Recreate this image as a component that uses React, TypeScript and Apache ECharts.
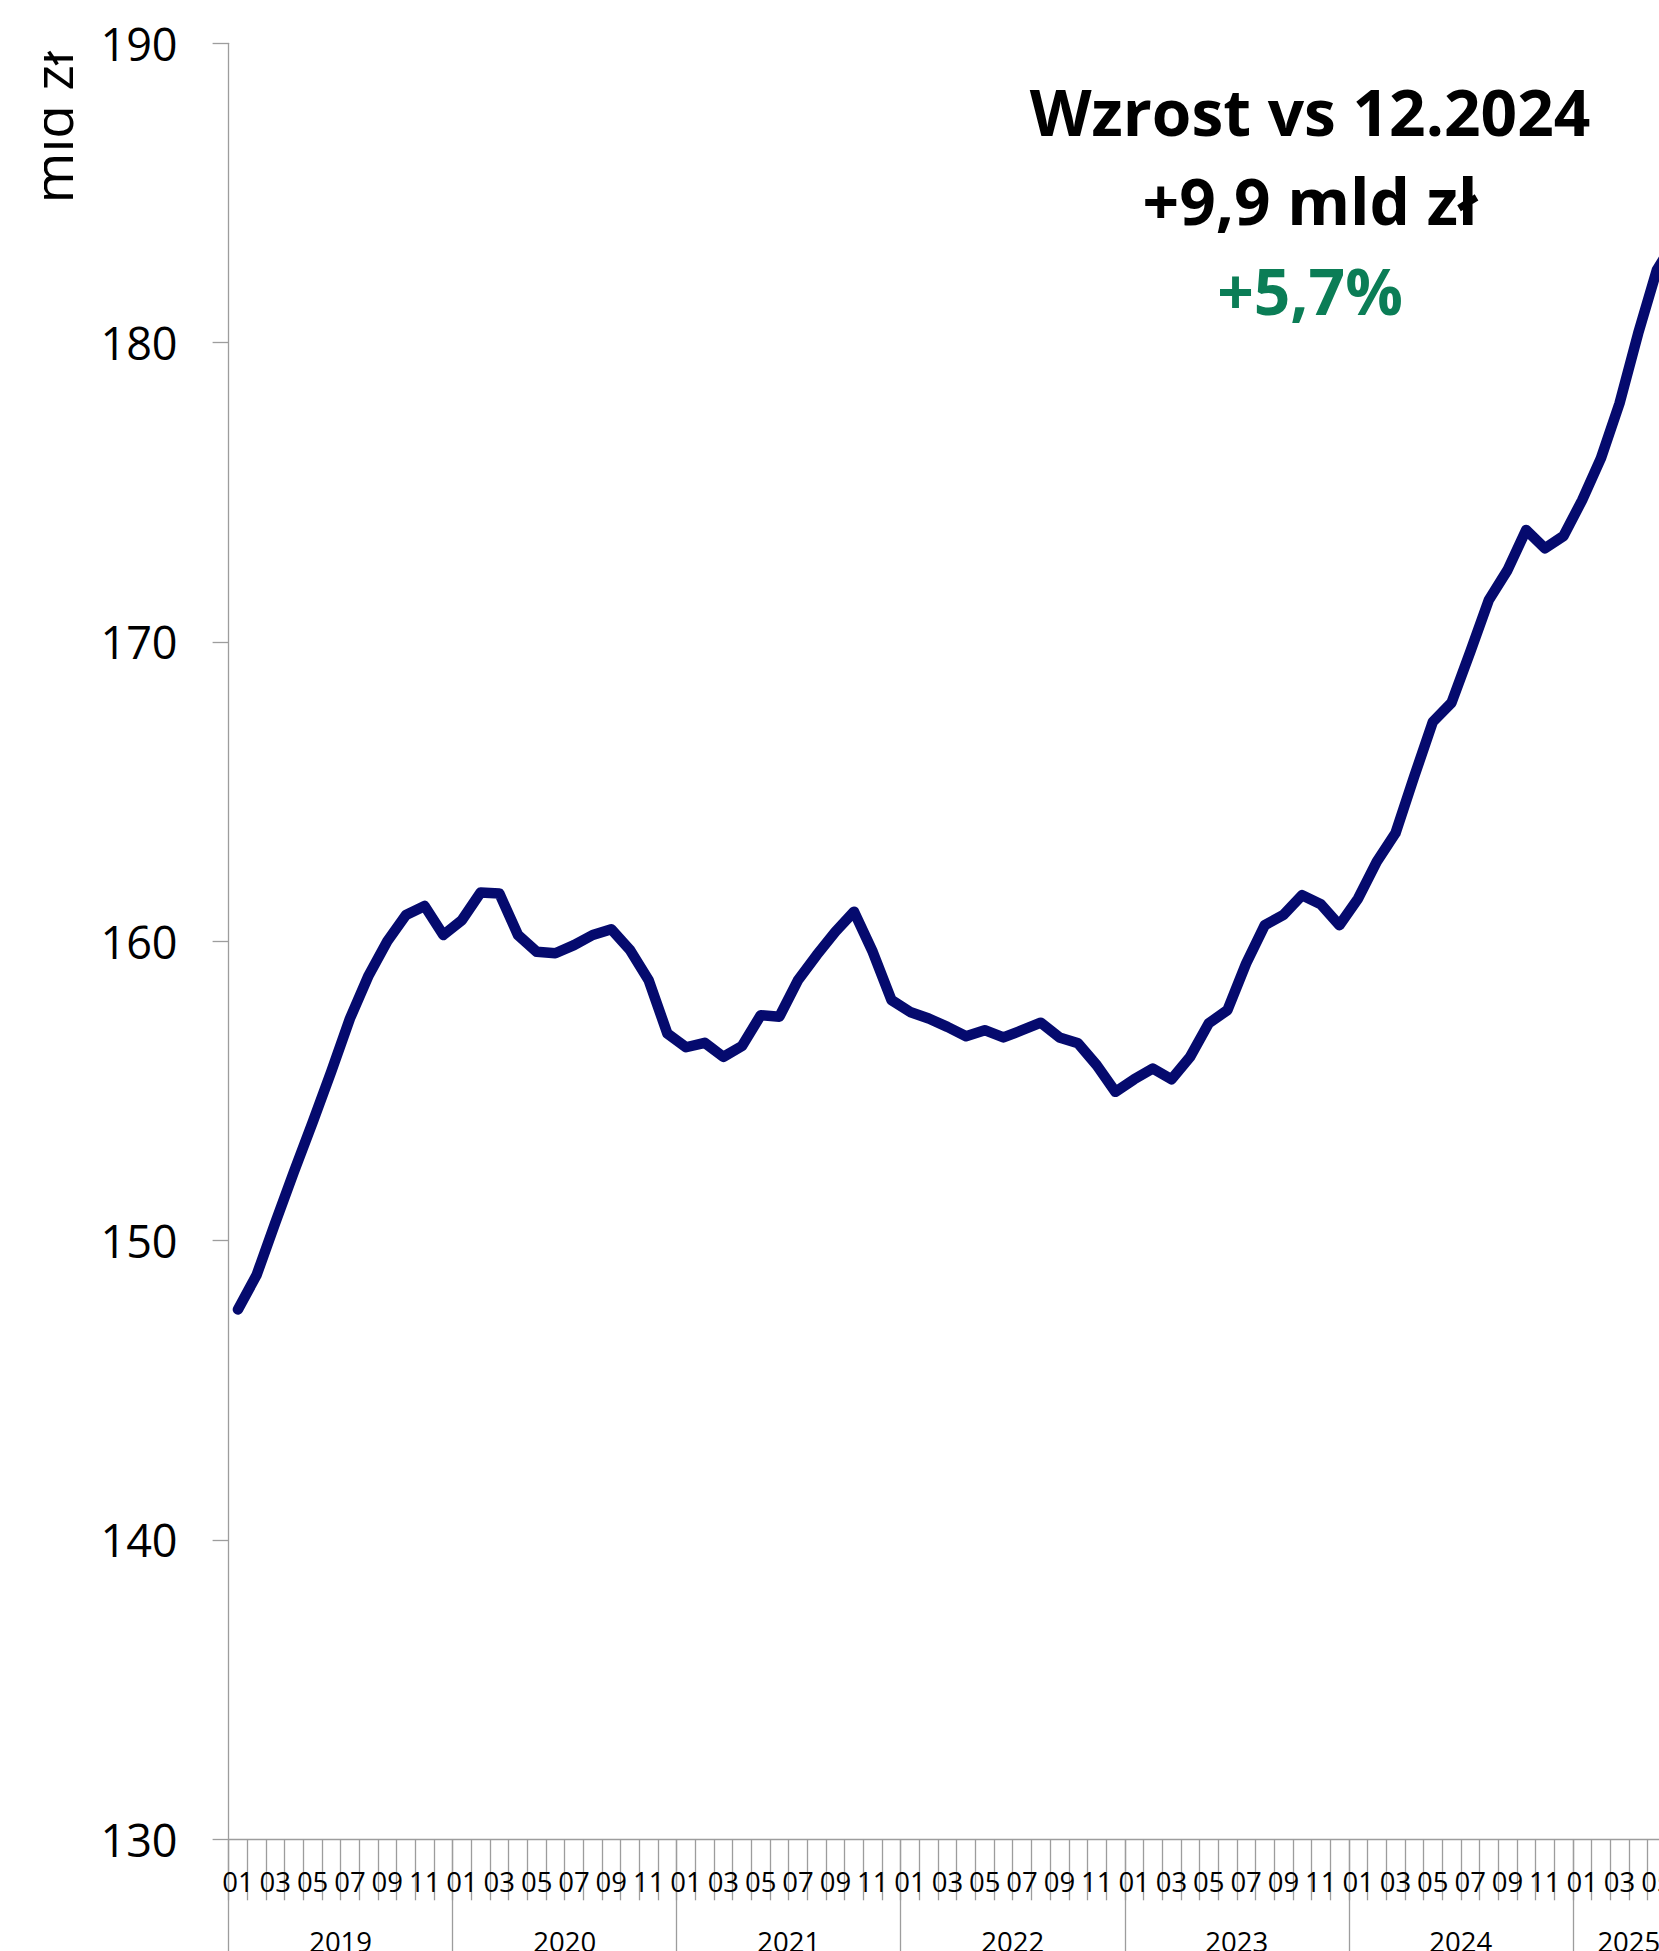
import React, { useEffect, useRef } from "react";
import * as echarts from "echarts";

// ---- DATA ----
const years = ["2019", "2020", "2021", "2022", "2023", "2024", "2025"];
const monthLabels = ["01", "02", "03", "04", "05", "06", "07", "08", "09", "10", "11", "12"];
const v2019 = [147.7, 148.85, 150.6, 152.3, 153.95, 155.65, 157.42, 158.86, 160.0, 160.88, 161.18, 160.21];
const v2020 = [160.71, 161.63, 161.6, 160.21, 159.65, 159.6, 159.87, 160.21, 160.4, 159.71, 158.7, 156.92];
const v2021 = [156.46, 156.61, 156.14, 156.5, 157.53, 157.48, 158.7, 159.54, 160.32, 160.99, 159.65, 158.04];
const v2022 = [157.64, 157.42, 157.14, 156.83, 157.03, 156.79, 157.03, 157.28, 156.79, 156.59, 155.86, 154.97];
const v2023 = [155.39, 155.75, 155.39, 156.14, 157.26, 157.7, 159.26, 160.54, 160.88, 161.54, 161.24, 160.54];
const v2024 = [161.43, 162.66, 163.61, 165.5, 167.33, 167.97, 169.66, 171.4, 172.4, 173.74, 173.13, 173.54];
const v2025 = [174.74, 176.13, 177.97, 180.31, 182.43, 183.44];
const yMin = 130;
const yMax = 190;
const yStep = 10;
const unitLabel = "mld zł";
const noteLines = ["Wzrost vs 12.2024", "+9,9 mld zł", "+5,7%"];

const yearValues = [v2019, v2020, v2021, v2022, v2023, v2024, v2025];

export default function App() {
  const ref = useRef<HTMLDivElement>(null);

  useEffect(() => {
    if (!ref.current) return;
    const chart = echarts.init(ref.current, null, { renderer: "svg" });

    const categories: string[] = [];
    const values: number[] = [];
    const yearCenters: { center: number; label: string }[] = [];
    let start = 0;
    yearValues.forEach((arr, yi) => {
      arr.forEach((v, mi) => {
        categories.push(years[yi] + "-" + monthLabels[mi]);
        values.push(v);
      });
      yearCenters.push({ center: start + arr.length / 2, label: years[yi] });
      start += arr.length;
    });
    const n = categories.length;

    const gray = "#9d9d9d";
    const font = "'Open Sans', 'Noto Sans', sans-serif";
    const band = 18.67;

    const option: any = {
      animation: false,
      backgroundColor: "#ffffff",
      grid: {
        left: 228.6,
        top: 43.3,
        width: band * n,
        height: 1796,
        containLabel: false,
        outerBoundsMode: "none",
      },
      xAxis: [
        {
          type: "category",
          position: "bottom",
          data: categories,
          boundaryGap: true,
          axisLine: { show: true, lineStyle: { color: gray, width: 1.3 } },
          axisTick: { show: true, interval: 0, length: 61, lineStyle: { color: gray, width: 1.3 } },
          axisLabel: {
            interval: 1,
            margin: 28,
            fontSize: 27.5,
            fontFamily: font,
            color: "#000",
            formatter: (v: string) => v.slice(5),
          },
          splitLine: { show: false },
        },
        {
          type: "category",
          position: "bottom",
          data: categories,
          boundaryGap: true,
          axisLine: { show: false },
          axisTick: {
            show: true,
            interval: (i: number) => i % 12 === 0,
            length: 130,
            lineStyle: { color: gray, width: 1.3 },
          },
          axisLabel: { show: false },
          splitLine: { show: false },
        },
        {
          type: "value",
          position: "bottom",
          min: 0,
          max: n,
          interval: 3,
          axisLine: { show: false },
          axisTick: { show: false },
          splitLine: { show: false },
          axisLabel: {
            margin: 88,
            fontSize: 27.5,
            fontFamily: font,
            color: "#000",
            showMinLabel: true,
            showMaxLabel: true,
            formatter: (v: number) => {
              const f = yearCenters.find((c) => Math.abs(c.center - v) < 0.01);
              return f ? f.label : "";
            },
          },
        },
      ],
      yAxis: {
        type: "value",
        min: yMin,
        max: yMax,
        interval: yStep,
        axisLine: { show: true, lineStyle: { color: gray, width: 1.3 } },
        axisTick: { show: true, length: 16, lineStyle: { color: gray, width: 1.3 } },
        axisLabel: { margin: 51, fontSize: 45, fontFamily: font, color: "#000" },
        splitLine: { show: false },
      },
      graphic: [
        {
          type: "text",
          x: 51.7,
          y: 203.5,
          rotation: Math.PI / 2,
          style: {
            text: unitLabel,
            fontSize: 55,
            fontFamily: font,
            fill: "#000",
            align: "left",
            verticalAlign: "middle",
          },
        },
        {
          type: "text",
          x: 1310,
          y: 111.2,
          style: {
            text: noteLines[0],
            fontSize: 64,
            fontWeight: "bold",
            fontFamily: font,
            fill: "#000",
            align: "center",
            verticalAlign: "middle",
          },
        },
        {
          type: "text",
          x: 1310,
          y: 200.2,
          style: {
            text: noteLines[1],
            fontSize: 64,
            fontWeight: "bold",
            fontFamily: font,
            fill: "#000",
            align: "center",
            verticalAlign: "middle",
          },
        },
        {
          type: "text",
          x: 1310,
          y: 290.2,
          style: {
            text: noteLines[2],
            fontSize: 64,
            fontWeight: "bold",
            fontFamily: font,
            fill: "#0b7d56",
            align: "center",
            verticalAlign: "middle",
          },
        },
      ],
      series: [
        {
          type: "line",
          xAxisIndex: 0,
          yAxisIndex: 0,
          data: values,
          showSymbol: false,
          symbol: "none",
          lineStyle: { color: "#050a6e", width: 10.5, cap: "round", join: "round" },
        },
      ],
    };

    chart.setOption(option);
    return () => chart.dispose();
  }, []);

  return (
    <div
      style={{
        position: "fixed",
        left: 0,
        top: 0,
        width: 1659,
        height: 1951,
        overflow: "hidden",
        background: "#fff",
      }}
    >
      <div
        style={{
          position: "absolute",
          left: 44,
          top: 0,
          width: 1615,
          height: 1951,
          overflow: "hidden",
        }}
      >
        <div
          ref={ref}
          style={{ position: "absolute", left: -44, top: 0, width: 1720, height: 1951 }}
        />
      </div>
    </div>
  );
}
